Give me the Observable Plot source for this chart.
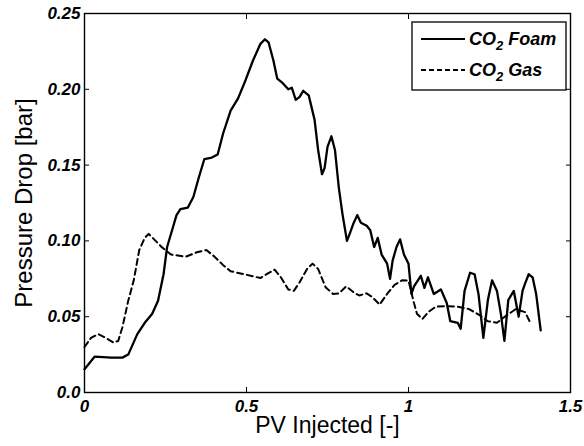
<!DOCTYPE html>
<html><head><meta charset="utf-8">
<script src="https://cdn.jsdelivr.net/npm/d3@7"></script>
<script src="https://cdn.jsdelivr.net/npm/@observablehq/plot@0.6"></script>
<style>body{margin:0;background:#fff} #chart{position:relative;width:584px;height:446px}</style>
</head><body><div id="chart"></div>
<script>
// CO2 Foam series
const foamX = [0,0.031,0.083,0.117,0.135,0.163,0.186,0.209,0.227,0.244,0.255,0.273,0.284,0.296,0.319,0.336,0.353,0.370,0.393,0.411,0.428,0.451,0.474,0.497,0.520,0.543,0.557,0.568,0.583,0.595,0.612,0.629,0.640,0.652,0.664,0.675,0.692,0.710,0.721,0.733,0.741,0.750,0.762,0.773,0.785,0.796,0.810,0.819,0.831,0.842,0.853,0.871,0.882,0.894,0.905,0.917,0.934,0.943,0.951,0.963,0.974,0.986,1.000,1.009,1.017,1.038,1.049,1.060,1.078,1.100,1.118,1.129,1.152,1.161,1.173,1.190,1.204,1.216,1.231,1.245,1.258,1.273,1.285,1.296,1.308,1.325,1.340,1.352,1.360,1.371,1.383,1.394,1.408];
const foamY = [0.0154,0.0236,0.023,0.023,0.025,0.0385,0.046,0.052,0.0605,0.078,0.096,0.109,0.117,0.121,0.122,0.129,0.142,0.154,0.155,0.157,0.171,0.186,0.194,0.206,0.219,0.230,0.233,0.231,0.219,0.207,0.204,0.200,0.201,0.193,0.195,0.199,0.196,0.180,0.160,0.144,0.148,0.162,0.169,0.160,0.135,0.118,0.100,0.105,0.112,0.117,0.112,0.110,0.107,0.096,0.102,0.091,0.085,0.075,0.087,0.096,0.101,0.091,0.085,0.065,0.070,0.077,0.069,0.076,0.065,0.068,0.059,0.047,0.046,0.042,0.067,0.079,0.078,0.065,0.036,0.061,0.074,0.067,0.052,0.034,0.061,0.067,0.050,0.067,0.072,0.078,0.076,0.065,0.041];
// CO2 Gas series
const gasX = [0,0.020,0.043,0.066,0.089,0.104,0.117,0.135,0.152,0.169,0.186,0.198,0.215,0.238,0.267,0.313,0.347,0.376,0.399,0.428,0.451,0.497,0.543,0.566,0.587,0.606,0.629,0.646,0.664,0.687,0.704,0.721,0.744,0.767,0.785,0.808,0.831,0.848,0.871,0.888,0.911,0.934,0.957,0.980,1.000,1.015,1.026,1.043,1.061,1.084,1.118,1.152,1.187,1.222,1.245,1.273,1.302,1.331,1.360,1.376];
const gasY = [0.030,0.036,0.0385,0.036,0.033,0.034,0.043,0.0605,0.074,0.094,0.102,0.1046,0.101,0.096,0.091,0.0896,0.0925,0.094,0.090,0.084,0.080,0.0778,0.0755,0.0786,0.081,0.076,0.068,0.067,0.0727,0.0815,0.085,0.0815,0.0695,0.065,0.0654,0.070,0.066,0.064,0.0654,0.063,0.058,0.065,0.071,0.074,0.0738,0.0606,0.052,0.0485,0.053,0.0566,0.057,0.0566,0.055,0.0507,0.047,0.046,0.0507,0.055,0.053,0.046];

const xTicks = [0, 0.5, 1, 1.5];
const yTicks = [0, 0.05, 0.10, 0.15, 0.20, 0.25];
const yTickLabels = ["0.0", "0.05", "0.10", "0.15", "0.20", "0.25"];
const xTitle = "PV Injected [-]";
const yTitle = "Pressure Drop [bar]";
const seriesNames = ["Foam", "Gas"];

const foam = foamX.map((x, i) => ({x, y: foamY[i]}));
const gas = gasX.map((x, i) => ({x, y: gasY[i]}));

const tickFont = {fontSize: 17, fontWeight: "bold", fontStyle: "italic"};

const chart = Plot.plot({
  width: 584, height: 446,
  marginLeft: 84, marginRight: 14, marginTop: 13, marginBottom: 54,
  style: {fontFamily: "'Liberation Sans', Arial, sans-serif", background: "#fff", color: "#000"},
  x: {domain: [0, 1.5]},
  y: {domain: [0, 0.25]},
  marks: [
    Plot.line(gas, {x: "x", y: "y", stroke: "#000", strokeWidth: 2, strokeDasharray: "6,4"}),
    Plot.line(foam, {x: "x", y: "y", stroke: "#000", strokeWidth: 2.3}),
    Plot.axisX(xTicks, {anchor: "bottom", tickSize: -5, tickPadding: 12, label: null, tickFormat: d3.format(""), ...tickFont}),
    Plot.axisX(xTicks, {anchor: "top", tickSize: -5, label: null, tickFormat: () => ""}),
    Plot.axisY(yTicks, {anchor: "left", tickSize: -5, tickPadding: 9, label: null, tickFormat: (d, i) => yTickLabels[i], ...tickFont}),
    Plot.axisY(yTicks, {anchor: "right", tickSize: -5, label: null, tickFormat: () => ""}),
    Plot.frame({stroke: "#000", strokeWidth: 1.4}),
    Plot.text([yTitle], {frameAnchor: "left", dx: -60, rotate: -90, fontSize: 24, textAnchor: "middle"}),
    Plot.text([xTitle], {frameAnchor: "bottom", dy: 40, fontSize: 23, textAnchor: "middle"})
  ]
});
document.getElementById("chart").appendChild(chart);

// Legend
const svg = d3.select(chart);
const lg = svg.append("g").attr("class", "legend").attr("text-anchor", "start");
lg.append("rect").attr("x", 412).attr("y", 22).attr("width", 154).attr("height", 68)
  .attr("fill", "#fff").attr("stroke", "#000").attr("stroke-width", 1.3);
const rows = [{name: seriesNames[0], dash: null, y: 39}, {name: seriesNames[1], dash: "5,3", y: 70}];
rows.forEach(r => {
  lg.append("line").attr("x1", 421).attr("x2", 465).attr("y1", r.y).attr("y2", r.y)
    .attr("stroke", "#000").attr("stroke-width", 2).attr("stroke-dasharray", r.dash);
  const t = lg.append("text").attr("x", 469).attr("y", r.y + 6).attr("text-anchor", "start")
    .attr("font-size", 18).attr("font-weight", "bold").attr("font-style", "italic")
    .attr("font-family", "'Liberation Sans', Arial, sans-serif");
  t.append("tspan").text("CO");
  t.append("tspan").attr("dy", 5).attr("font-size", 13).text("2");
  t.append("tspan").attr("dy", -5).text(" " + r.name);
});
</script>
</body></html>
